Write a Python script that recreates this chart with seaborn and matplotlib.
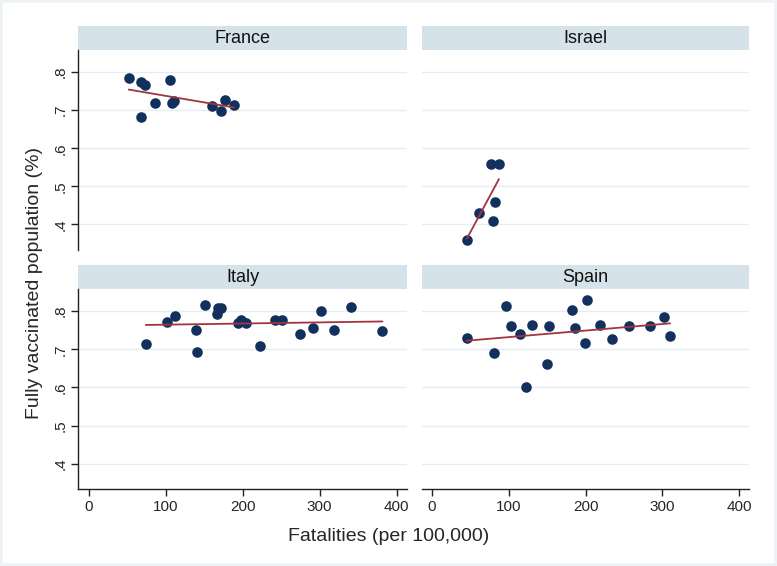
import pandas as pd
import numpy as np
import matplotlib
matplotlib.use('Agg')
import matplotlib.pyplot as plt
import seaborn as sns
from matplotlib.patches import Rectangle

# values
countries = ['France', 'Israel', 'Italy', 'Spain']

france_x = [52, 67.6, 73.7, 106.2, 85.8, 108.3, 110.9, 67.6, 159.6, 171.6, 176.9, 188.9]
france_y = [0.784, 0.774, 0.765, 0.778, 0.719, 0.719, 0.724, 0.682, 0.712, 0.697, 0.726, 0.713]

israel_x = [45.5, 61, 79, 82.4, 76.8, 87.1]
israel_y = [0.359, 0.430, 0.409, 0.459, 0.559, 0.559]

italy_x = [74.1, 102.2, 111.6, 139.7, 140.1, 150.9, 167.2, 168.1, 172.4, 193.5, 197.4,
           204.7, 222.8, 241.4, 251.3, 274.6, 290.9, 301.7, 318.1, 340.1, 381.5]
italy_y = [0.715, 0.771, 0.788, 0.750, 0.693, 0.817, 0.793, 0.808, 0.809, 0.769, 0.776,
           0.770, 0.709, 0.776, 0.777, 0.741, 0.755, 0.800, 0.751, 0.810, 0.747]

spain_x = [45.1, 80.7, 96.1, 103.4, 114.2, 121.9, 130.0, 150.2, 152.4, 182.4, 186.3,
           199.1, 201.3, 218.5, 234.8, 255.8, 283.3, 302.1, 309.9]
spain_y = [0.730, 0.689, 0.813, 0.762, 0.740, 0.600, 0.763, 0.661, 0.761, 0.804, 0.756,
           0.716, 0.830, 0.764, 0.726, 0.761, 0.761, 0.785, 0.736]

y_ticks = [0.4, 0.5, 0.6, 0.7, 0.8]
y_tick_labels = ['.4', '.5', '.6', '.7', '.8']
x_ticks = [0, 100, 200, 300, 400]

dot_color = '#12305e'
line_color = '#a3343f'
strip_color = '#d5e2e9'
grid_color = '#e4edf0'

frames = []
for name, xs, ys in zip(countries, [france_x, israel_x, italy_x, spain_x],
                        [france_y, israel_y, italy_y, spain_y]):
    frames.append(pd.DataFrame({'country': name, 'fatalities': xs, 'vaccinated': ys}))
df = pd.concat(frames, ignore_index=True)

sns.set_style('white')
plt.rcParams['font.family'] = ['Liberation Sans', 'DejaVu Sans']

g = sns.FacetGrid(df, col='country', col_wrap=2, col_order=countries,
                  sharex=True, sharey=True, height=3, aspect=1.3)
g.map_dataframe(sns.regplot, x='fatalities', y='vaccinated', ci=None,
                scatter_kws=dict(s=58, color=dot_color, alpha=1, linewidths=0),
                line_kws=dict(color=line_color, lw=1.3))
g.set_titles('')
g.set_axis_labels('', '')

fig = g.figure
fig.set_size_inches(7.77, 5.66)
fig.set_facecolor('white')

positions = [[0.1008, 0.5583, 0.4226, 0.3534],
             [0.5427, 0.5583, 0.4216, 0.3534],
             [0.1008, 0.1355, 0.4226, 0.3539],
             [0.5427, 0.1355, 0.4216, 0.3539]]

for i, ax in enumerate(g.axes.flat):
    ax.set_position(positions[i])
    ax.set_xlim(-13.5, 413)
    ax.set_ylim(0.333, 0.858)
    ax.set_xticks(x_ticks)
    ax.set_yticks(y_ticks)
    ax.yaxis.grid(True, color=grid_color, lw=1)
    ax.xaxis.grid(False)
    ax.set_axisbelow(True)
    left = i % 2 == 0
    bottom = i >= 2
    for side in ['top', 'right']:
        ax.spines[side].set_visible(False)
    ax.spines['left'].set_visible(left)
    ax.spines['bottom'].set_visible(bottom)
    for side in ['left', 'bottom']:
        ax.spines[side].set_color('#222222')
        ax.spines[side].set_linewidth(1)
    ax.tick_params(axis='y', left=left, labelleft=left, length=5, width=1,
                   color='#222222', labelsize=11, pad=3)
    ax.tick_params(axis='x', bottom=bottom, labelbottom=bottom, length=5, width=1,
                   color='#222222', labelsize=11, pad=3)
    if left:
        ax.set_yticklabels(y_tick_labels, rotation=90, va='center')
    if bottom:
        ax.set_xticklabels([str(t) for t in x_ticks])
    # strip header
    h = 23.5 / 200
    ax.add_patch(Rectangle((0, 1), 1, h, transform=ax.transAxes, facecolor=strip_color,
                           edgecolor='none', clip_on=False))
    ax.text(0.5, 1 + h / 2, countries[i], transform=ax.transAxes, ha='center',
            va='center', fontsize=13, color='#111111')

fig.text(0.045, 0.5, 'Fully vaccinated population (%)', rotation=90, ha='center',
         va='center', fontsize=14)
fig.text(0.5, 0.053, 'Fatalities (per 100,000)', ha='center', va='center', fontsize=14)

fig.patches.append(Rectangle((0, 0), 1, 1, transform=fig.transFigure, fill=False,
                             edgecolor='#edf3f5', lw=4, zorder=-1))

fig.savefig('out.png', dpi=100, facecolor='white')
